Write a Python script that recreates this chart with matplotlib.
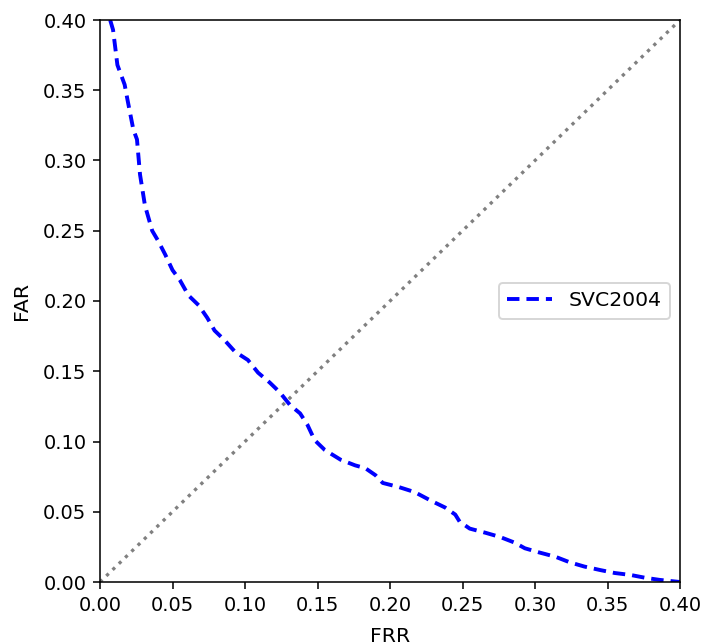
import numpy as np
import matplotlib
matplotlib.use("Agg")
import matplotlib.pyplot as plt

# DET curve for SVC2004 (false rejection rate vs false acceptance rate)
frr = [0.007, 0.009, 0.012, 0.017, 0.019, 0.023, 0.0255, 0.0276, 0.031, 0.036,
       0.040, 0.045, 0.050, 0.055, 0.061, 0.068, 0.074, 0.079, 0.086, 0.093,
       0.102, 0.109, 0.117, 0.124, 0.131, 0.138, 0.143, 0.148, 0.155, 0.166,
       0.176, 0.183, 0.190, 0.195, 0.206, 0.217, 0.228, 0.238, 0.245, 0.248,
       0.255, 0.266, 0.276, 0.286, 0.293, 0.303, 0.314, 0.324, 0.334, 0.345,
       0.355, 0.366, 0.376, 0.386, 0.400]
far = [0.400, 0.393, 0.368, 0.354, 0.343, 0.322, 0.315, 0.290, 0.268, 0.250,
       0.243, 0.233, 0.222, 0.215, 0.204, 0.197, 0.188, 0.179, 0.172, 0.164,
       0.158, 0.149, 0.142, 0.135, 0.126, 0.120, 0.112, 0.101, 0.094, 0.087,
       0.083, 0.081, 0.076, 0.0705, 0.0676, 0.064, 0.058, 0.053, 0.048, 0.043,
       0.038, 0.035, 0.032, 0.028, 0.024, 0.021, 0.018, 0.014, 0.011, 0.0085,
       0.0064, 0.005, 0.003, 0.0015, 0.000]

lim = 0.4

fig = plt.figure(figsize=(705 / 140, 644 / 140), dpi=140)
ax = fig.add_axes([100 / 705, 1 - 582 / 644, 580 / 705, 562 / 644])

ax.plot(frr, far, '--', color='blue', lw=2, dashes=(3.2, 1.8), label='SVC2004')
ax.plot([0, lim], [0, lim], ':', color='gray', lw=1.7)

ax.set_xlim(0, lim)
ax.set_ylim(0, lim)
ax.set_xlabel('FRR', fontsize=10.5, labelpad=6.5)
ax.set_ylabel('FAR', fontsize=10.5, labelpad=6)
ax.legend(loc='center right', fontsize=10.5, handlelength=2.2)

fig.savefig("out.png", dpi=140)
